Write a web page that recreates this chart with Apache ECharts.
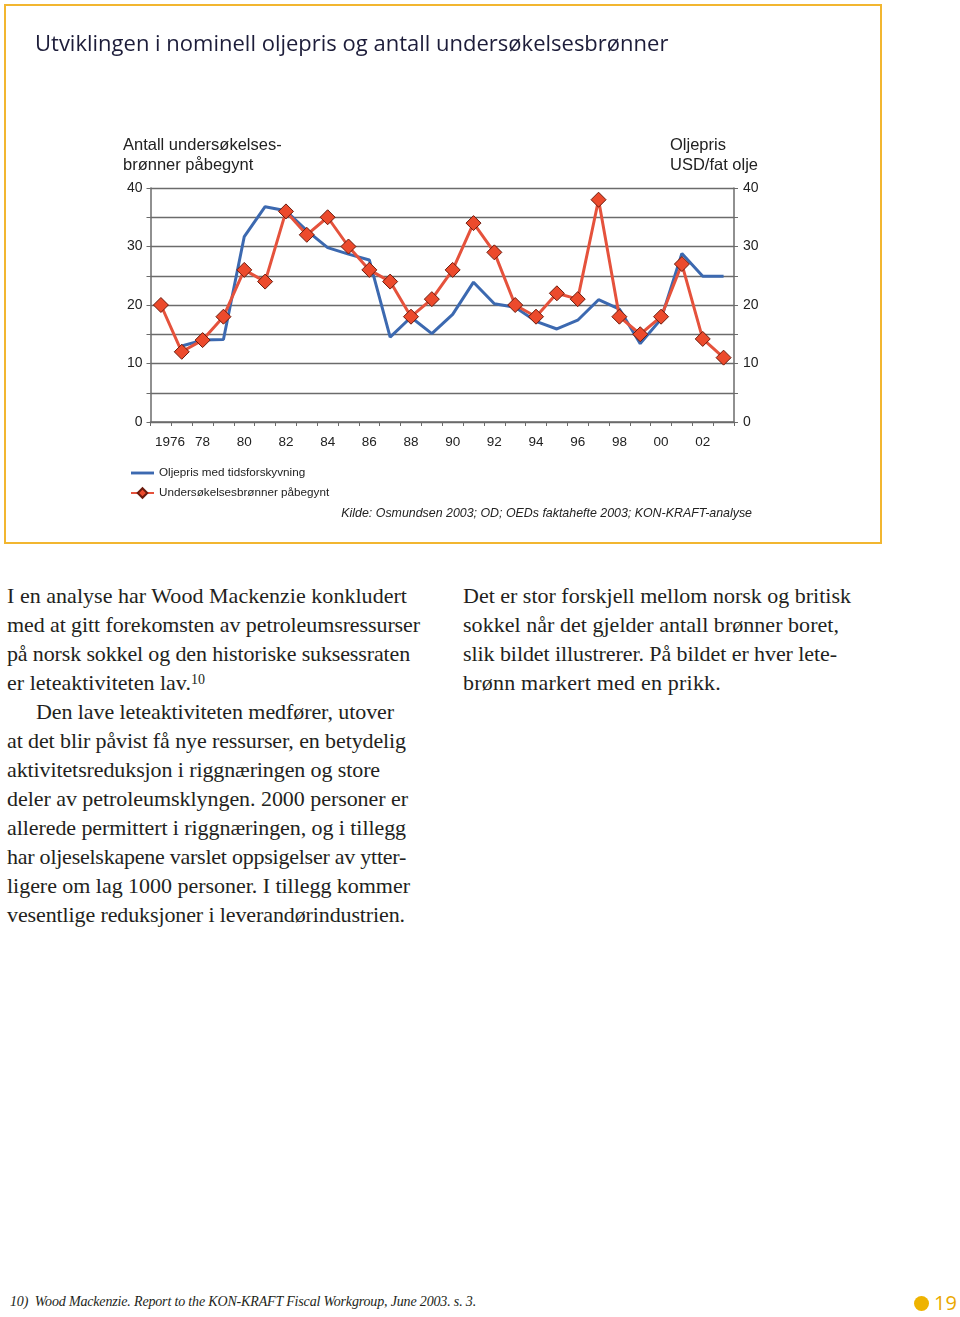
<!DOCTYPE html>
<html><head><meta charset="utf-8">
<script src="https://cdn.jsdelivr.net/npm/echarts@6/dist/echarts.min.js"></script>
<style>
html,body{margin:0;padding:0;background:#fff;}
#page{position:relative;width:960px;height:1317px;overflow:hidden;}
#box{position:absolute;left:4px;top:4px;width:874px;height:536px;border:2.5px solid #f2b630;}
#chart{position:absolute;left:0;top:0;width:960px;height:548px;}
.col{position:absolute;font-family:"Liberation Serif","DejaVu Serif",serif;font-size:22px;line-height:29px;color:#231f20;white-space:nowrap;}
.col div{height:29px;}
.col div span{display:inline-block;}
.col sup{font-size:14px;vertical-align:6px;line-height:0;}
#foot{position:absolute;left:10px;top:1294px;font-family:"Liberation Serif",serif;font-style:italic;font-size:14px;color:#231f20;white-space:nowrap;}
#pnum{position:absolute;left:914px;top:1289px;font-family:"Open Sans",sans-serif;font-size:20px;color:#eaa800;white-space:nowrap;}
#pnum i{display:inline-block;width:15px;height:15px;border-radius:50%;background:#eeb300;margin-right:5px;vertical-align:-1px;}
</style></head>
<body><div id="page">
<div id="box"></div>
<div id="chart"></div>
<div class="col" style="left:7px;top:581px;">
<div><span data-w="400">I en analyse har Wood Mackenzie konkludert</span></div>
<div><span data-w="413">med at gitt forekomsten av petroleumsressurser</span></div>
<div><span data-w="403">på norsk sokkel og den historiske suksessraten</span></div>
<div><span data-w="198">er leteaktiviteten lav.<sup>10</sup></span></div>
<div style="padding-left:29px"><span data-w="358">Den lave leteaktiviteten medfører, utover</span></div>
<div><span data-w="399">at det blir påvist få nye ressurser, en betydelig</span></div>
<div><span data-w="373">aktivitetsreduksjon i riggnæringen og store</span></div>
<div><span data-w="401">deler av petroleumsklyngen. 2000 personer er</span></div>
<div><span data-w="399">allerede permittert i riggnæringen, og i tillegg</span></div>
<div><span data-w="399">har oljeselskapene varslet oppsigelser av ytter-</span></div>
<div><span data-w="403">ligere om lag 1000 personer. I tillegg kommer</span></div>
<div><span data-w="398">vesentlige reduksjoner i leverandørindustrien.</span></div>
</div>
<div class="col" style="left:463px;top:581px;">
<div><span data-w="388">Det er stor forskjell mellom norsk og britisk</span></div>
<div><span data-w="376">sokkel når det gjelder antall brønner boret,</span></div>
<div><span data-w="374">slik bildet illustrerer. På bildet er hver lete-</span></div>
<div><span data-w="258">brønn markert med en prikk.</span></div>
</div>
<div id="foot"><span data-w="466">10)&nbsp; Wood Mackenzie. Report to the KON-KRAFT Fiscal Workgroup, June 2003. s. 3.</span></div>
<div id="pnum"><i></i>19</div>
</div>
<script>
const years = ['1976','1977','1978','1979','1980','1981','1982','1983','1984','1985','1986','1987','1988','1989','1990','1991','1992','1993','1994','1995','1996','1997','1998','1999','2000','2001','2002','2003'];
const xTickLabels = ['1976','78','80','82','84','86','88','90','92','94','96','98','00','02'];
const oilPrice = [null,13,14,14.1,31.7,36.8,36.1,32.7,29.8,28.7,27.7,14.5,17.9,15.1,18.4,23.9,20.2,19.6,17.2,15.9,17.4,20.9,19.3,13.4,17.6,28.8,24.9,24.9];
const wellsStarted = [20,12,14,18,26,24,36,32,35,30,26,24,18,21,26,34,29,20,18,22,21,38,18,15,18,27,14.2,11];
const yTickLabels = ['0','10','20','30','40'];

// fit text lines to the measured widths of the original page
document.querySelectorAll('span[data-w]').forEach(function(s){
  const target = +s.getAttribute('data-w');
  const w = s.getBoundingClientRect().width;
  const n = s.textContent.length;
  if (n > 1) s.style.letterSpacing = ((target - w) / n).toFixed(3) + 'px';
});

const chart = echarts.init(document.getElementById('chart'), null, {renderer:'canvas'});
const sans = 'Liberation Sans, Arial, sans-serif';
const gridColor = '#6b6b6b';
function yFmt(v){ return v % 10 === 0 ? yTickLabels[v/10] : ''; }
chart.setOption({
  animation:false,
  backgroundColor:'transparent',
  title:{text:'Utviklingen i nominell oljepris og antall undersøkelsesbrønner', left:30, top:29,
    textStyle:{fontFamily:'Open Sans', fontWeight:'normal', fontSize:22, color:'#1d1d3a'}},
  grid:{left:150.5, right:226, top:188, bottom:126, containLabel:false},
  legend:{orient:'vertical', left:125, top:462, itemWidth:23, itemHeight:12, itemGap:8,
    textStyle:{fontFamily:sans, fontSize:11.7, color:'#222'},
    data:[{name:'Oljepris med tidsforskyvning', icon:'path://M0,0 L24,0 L24,3 L0,3 Z'},
          'Undersøkelsesbrønner påbegynt']},
  xAxis:{type:'category', data:years, boundaryGap:true,
    axisLine:{lineStyle:{color:gridColor, width:1.5}},
    axisTick:{show:true, interval:0, length:4, lineStyle:{color:gridColor}},
    axisLabel:{interval:0, margin:13, fontFamily:sans, fontSize:13.5, color:'#222',
      formatter:function(v,i){ if(i%2) return ''; const t = xTickLabels[i/2]; return i===0 ? '{f|'+t+'}' : t; },
      rich:{f:{fontFamily:sans, fontSize:13.5, color:'#222', padding:[0,0,0,18]}}},
    splitLine:{show:false}},
  yAxis:[
    {type:'value', min:0, max:40, interval:5, position:'left',
     axisLine:{show:true, lineStyle:{color:gridColor, width:1.5}},
     axisTick:{show:true, length:4, lineStyle:{color:gridColor}},
     axisLabel:{margin:8, fontFamily:sans, fontSize:14, color:'#222', formatter:yFmt},
     splitLine:{show:true, lineStyle:{color:gridColor, width:1.3}}},
    {type:'value', min:0, max:40, interval:5, position:'right',
     axisLine:{show:true, lineStyle:{color:gridColor, width:1.5}},
     axisTick:{show:true, length:4, lineStyle:{color:gridColor}},
     axisLabel:{margin:9, fontFamily:sans, fontSize:14, color:'#222', formatter:yFmt},
     splitLine:{show:false}}
  ],
  graphic:[
    {type:'text', left:123, top:135, style:{text:'Antall undersøkelses-\nbrønner påbegynt', font:'16.5px '+sans, fill:'#222', lineHeight:20.5}},
    {type:'text', right:202, top:135, style:{text:'Oljepris\nUSD/fat olje', font:'16.5px '+sans, fill:'#222', lineHeight:20.5, align:'right'}},
    {type:'text', right:208, top:508, style:{text:'Kilde: Osmundsen 2003; OD; OEDs faktahefte 2003; KON-KRAFT-analyse', font:'italic 12.4px '+sans, fill:'#222', align:'right'}}
  ],
  series:[
    {name:'Oljepris med tidsforskyvning', type:'line', yAxisIndex:1, data:oilPrice, symbol:'none',
     lineStyle:{color:'#3c69b0', width:3}, itemStyle:{color:'#3c69b0'}, connectNulls:false, z:2},
    {name:'Undersøkelsesbrønner påbegynt', type:'line', yAxisIndex:0, data:wellsStarted, symbol:'diamond', symbolSize:15,
     showSymbol:true, lineStyle:{color:'#e5523c', width:3},
     itemStyle:{color:'#ec4a2c', borderColor:'#6b1a0c', borderWidth:1}, z:3}
  ]
});
</script>
</body></html>
